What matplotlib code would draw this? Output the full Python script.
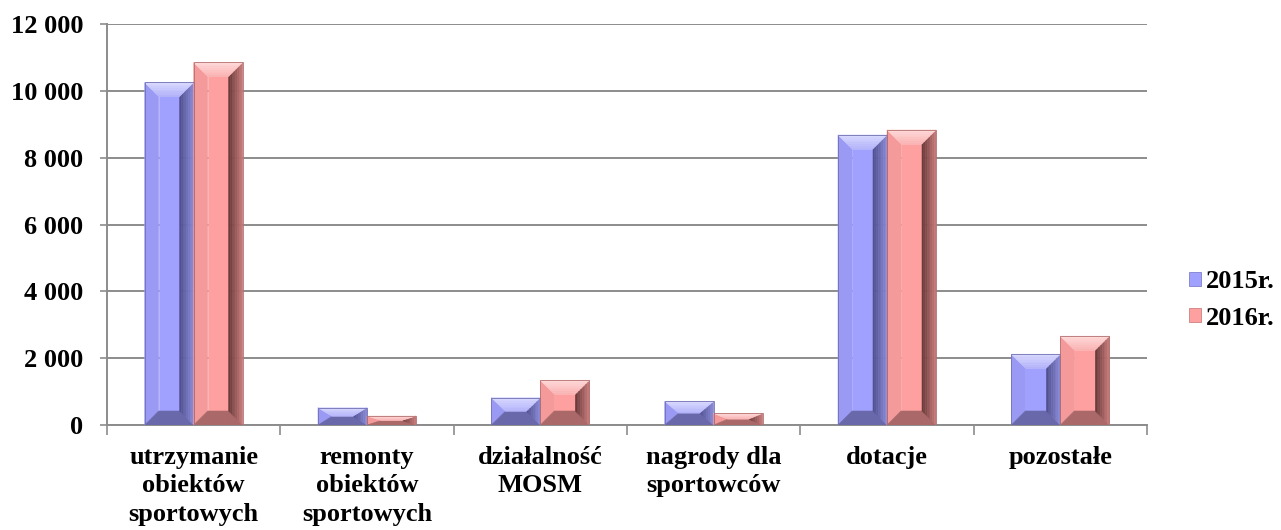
import numpy as np
import matplotlib.pyplot as plt
from matplotlib.patches import Polygon, Patch
from matplotlib.colors import to_rgb

# dane
kategorie = ['utrzymanie\nobiektów\nsportowych', 'remonty\nobiektów\nsportowych',
             'działalność\nMOSM', 'nagrody dla\nsportowców', 'dotacje', 'pozostałe']
wartosci_2015 = [10250, 520, 820, 710, 8680, 2120]
wartosci_2016 = [10850, 270, 1340, 350, 8830, 2660]
serie = ['2015r.', '2016r.']

# kolory: lico, góra, lewo, prawo (wewn./zewn.), dół
kolory = {
    '2015r.': dict(face='#A0A0FF', top_out='#D8D8FF', top_in='#B0B0FA', left='#9A9AF4',
                   right_in='#4C4C8C', right_out='#8A8AD8', bottom='#6868AA'),
    '2016r.': dict(face='#FFA0A0', top_out='#FFD8D8', top_in='#FAB0B0', left='#F49A9A',
                   right_in='#663636', right_out='#C87A7A', bottom='#AA6868'),
}

W, H, DPI = 1281, 530, 100
fig = plt.figure(figsize=(W / DPI, H / DPI), dpi=DPI)
ax = fig.add_axes([107 / W, 1 - 425 / H, (1147 - 107) / W, (425 - 24) / H])

font = dict(family='Liberation Serif', weight='bold', size=19)
szary = '#8C8C8C'

ax.set_xlim(-0.5, len(kategorie) - 0.5)
ax.set_ylim(0, 12000)

# przeliczenie pikseli na jednostki danych
px_x = (len(kategorie)) / (1147 - 107)
px_y = 12000 / (425 - 24)
bevel = 14
szer = 49 * px_x


def mieszaj(c1, c2, t):
    a, b = np.array(to_rgb(c1)), np.array(to_rgb(c2))
    return a + (b - a) * t


def wielokat(pkt, kolor):
    ax.add_patch(Polygon(pkt, closed=True, fc=kolor, ec=kolor, lw=0.4, zorder=3))


def slupek(x0, h, k):
    x1 = x0 + szer
    bx = min(bevel * px_x, szer / 2)
    by = min(bevel * px_y, h / 2)
    ix0, ix1, iy0, iy1 = x0 + bx, x1 - bx, by, h - by
    wielokat([(ix0, iy0), (ix1, iy0), (ix1, iy1), (ix0, iy1)], k['face'])
    wielokat([(x0, 0), (x0, h), (ix0, iy1), (ix0, iy0)], k['left'])
    wielokat([(x0, 0), (x1, 0), (ix1, iy0), (ix0, iy0)], k['bottom'])
    n = 8
    for i in range(n):
        t0, t1 = i / n, (i + 1) / n
        tc = (t0 + t1) / 2
        # prawa ścianka
        xa, xb = ix1 + (x1 - ix1) * t0, ix1 + (x1 - ix1) * t1
        ya0, ya1 = iy0 * (1 - t0), iy1 + (h - iy1) * t0
        yb0, yb1 = iy0 * (1 - t1), iy1 + (h - iy1) * t1
        wielokat([(xa, ya0), (xb, yb0), (xb, yb1), (xa, ya1)],
                 mieszaj(k['right_in'], k['right_out'], tc))
        # górna ścianka
        ya, yb = iy1 + (h - iy1) * t0, iy1 + (h - iy1) * t1
        xa0, xa1 = ix0 - (ix0 - x0) * t0, ix1 + (x1 - ix1) * t0
        xb0, xb1 = ix0 - (ix0 - x0) * t1, ix1 + (x1 - ix1) * t1
        wielokat([(xa0, ya), (xa1, ya), (xb1, yb), (xb0, yb)],
                 mieszaj(k['top_in'], k['top_out'], tc))
    ax.add_patch(Polygon([(x0, 0), (x1, 0), (x1, h), (x0, h)], closed=True,
                         fc='none', ec=mieszaj(k['face'], '#000000', 0.3),
                         lw=0.6, zorder=4))


x = np.arange(len(kategorie))
for i in range(len(kategorie)):
    slupek(x[i] - szer, wartosci_2015[i], kolory['2015r.'])
    slupek(x[i], wartosci_2016[i], kolory['2016r.'])

# osie i siatka
ax.set_yticks(np.arange(0, 12001, 2000))
ax.set_yticklabels([f'{v:,}'.replace(',', ' ') for v in range(0, 12001, 2000)], **font)
ax.yaxis.grid(True, color=szary, lw=1.4, zorder=0)
ax.set_axisbelow(True)
ax.tick_params(axis='y', length=5, width=1.2, color=szary, pad=12)

ax.set_xticks(x)
ax.set_xticklabels(kategorie, **font, linespacing=1.3)
ax.set_xticks(np.arange(-0.5, len(kategorie)), minor=True)
ax.tick_params(axis='x', which='major', length=0, pad=15)
ax.tick_params(axis='x', which='minor', length=7, width=1.2, color=szary)

for s in ['top', 'right']:
    ax.spines[s].set_visible(False)
for s in ['left', 'bottom']:
    ax.spines[s].set_color(szary)
    ax.spines[s].set_linewidth(1.4)

uchwyty = [Patch(fc=kolory[s]['face'], ec=mieszaj(kolory[s]['face'], '#000000', 0.2), lw=0.6)
           for s in serie]
fig.legend(uchwyty, serie, loc='center left', bbox_to_anchor=(1189 / W, 1 - 300 / H),
           frameon=False, prop=font, handlelength=0.45, handleheight=0.45,
           handletextpad=0.2, labelspacing=0.5, borderaxespad=0, borderpad=0)

fig.savefig('out.png', dpi=DPI)
